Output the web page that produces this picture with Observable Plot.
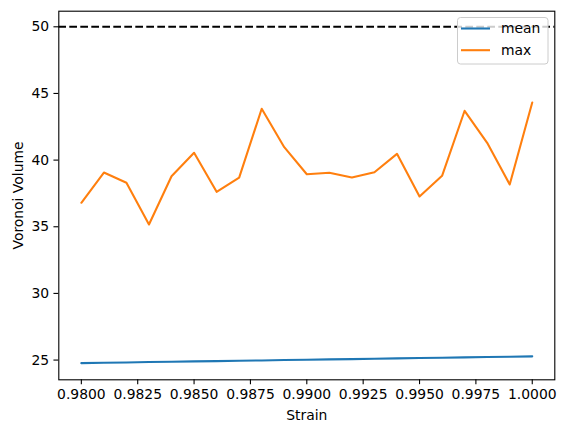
<!DOCTYPE html>
<html><head><meta charset="utf-8">
<script src="https://cdn.jsdelivr.net/npm/d3@7"></script>
<script src="https://cdn.jsdelivr.net/npm/@observablehq/plot@0.6"></script>
<style>
body{margin:0;background:#fff;font-family:"DejaVu Sans",sans-serif;}
#wrap{position:relative;width:565px;height:433px;}
#legend{position:absolute;left:456.5px;top:16.8px;}
</style></head><body><div id="wrap"></div>
<script>
const strain = [0.980,0.981,0.982,0.983,0.984,0.985,0.986,0.987,0.988,0.989,0.990,0.991,0.992,0.993,0.994,0.995,0.996,0.997,0.998,0.999,1.000];
const meanVol = [24.77,24.80,24.82,24.85,24.87,24.90,24.92,24.95,24.97,25.00,25.02,25.05,25.07,25.10,25.13,25.15,25.18,25.20,25.23,25.25,25.28];
const maxVol = [36.80,39.07,38.30,35.17,38.79,40.55,37.62,38.69,43.85,40.97,38.94,39.05,38.69,39.09,40.47,37.27,38.82,43.70,41.30,38.17,44.32];
const refLine = [50];
const xTicks = [0.98,0.9825,0.985,0.9875,0.99,0.9925,0.995,0.9975,1.0];
const yTicks = [25,30,35,40,45,50];
const seriesNames = ["mean","max"];
const seriesColors = ["#1f77b4","#ff7f0e"];
const xLabel = "Strain";
const yLabel = "Voronoi Volume";

const rows = strain.map((s,i)=>({strain:s, mean:meanVol[i], max:maxVol[i]}));
const font = '"DejaVu Sans", sans-serif';
const chart = Plot.plot({
  width:565, height:433,
  marginLeft:58.3, marginRight:10.7, marginTop:10.7, marginBottom:53.7,
  style:{fontFamily:font, fontSize:"13.9px", color:"black", background:"white", overflow:"visible"},
  x:{domain:[0.979,1.001]},
  y:{domain:[23.52,51.17]},
  marks:[
    Plot.ruleY(refLine,{stroke:"black",strokeWidth:2.08,strokeDasharray:"7.7,3.3"}),
    Plot.lineY(rows,{x:"strain",y:"mean",stroke:seriesColors[0],strokeWidth:2.08}),
    Plot.lineY(rows,{x:"strain",y:"max",stroke:seriesColors[1],strokeWidth:2.08}),
    Plot.frame({stroke:"black",strokeWidth:1.1}),
    Plot.axisX(xTicks,{tickFormat:d3.format(".4f"), tickSize:4.86, tickPadding:4.86, strokeWidth:1.1, fill:"black", label:xLabel, labelAnchor:"center", labelOffset:40.5, labelArrow:"none"}),
    Plot.axisY(yTicks,{tickFormat:d3.format("d"), tickSize:4.86, tickPadding:4.86, strokeWidth:1.1, fill:"black", label:yLabel, labelAnchor:"center", labelOffset:46, labelArrow:"none"})
  ]
});
document.getElementById("wrap").appendChild(chart);

// legend
const leg = d3.select("#wrap").append("svg").attr("id","legend").attr("width",92).attr("height",48);
leg.append("rect").attr("x",0.5).attr("y",0.5).attr("width",90.5).attr("height",46.5).attr("rx",3)
  .attr("fill","white").attr("fill-opacity",0.8).attr("stroke","#cccccc");
seriesNames.forEach((n,i)=>{
  const cy = 11.5 + i*21.7;
  leg.append("line").attr("x1",4).attr("x2",33).attr("y1",cy).attr("y2",cy)
    .attr("stroke",seriesColors[i]).attr("stroke-width",2.08);
  leg.append("text").attr("x",44).attr("y",cy).attr("dy","0.35em")
    .attr("font-family",font).attr("font-size","13.9px").attr("fill","black").text(n);
});
</script></body></html>
